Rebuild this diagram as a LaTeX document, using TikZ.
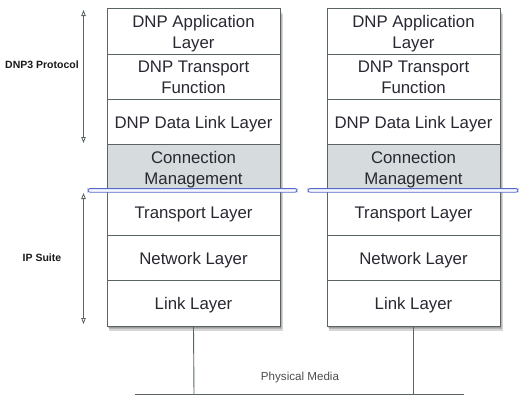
\documentclass[tikz,border=0pt]{standalone}
\usepackage{fontspec}
\setmainfont{Liberation Sans}
\usetikzlibrary{arrows.meta}
\definecolor{edgegray}{RGB}{90,100,100}
\definecolor{txtgray}{RGB}{40,40,50}
\definecolor{shadegray}{RGB}{214,219,221}
\definecolor{capblue}{RGB}{85,105,205}
\definecolor{capfill}{RGB}{246,247,252}
\begin{document}
\begin{tikzpicture}[x=1pt,y=-1pt,
  layer/.style={draw=edgegray, line width=1pt, fill=white, minimum width=173pt,
    minimum height=45.3pt, inner sep=0pt, align=center, text=txtgray, text depth=0pt,
    font=\fontsize{16.8}{21}\selectfont},
  shaded/.style={layer, fill=shadegray},
  shadowlayer/.style={fill=black!80, opacity=0.2},
  side/.style={font=\bfseries\fontsize{10.5}{12}\selectfont, text=black!90},
  span/.style={draw=edgegray, line width=0.8pt, {Triangle[open,length=6pt,width=4.5pt]}-{Triangle[open,length=6pt,width=4.5pt]}},
  wire/.style={draw=edgegray, line width=0.9pt},
  capsule/.style={draw=capblue, fill=capfill, line width=0.9pt, rounded corners=2pt}]
\useasboundingbox (0,0) rectangle (520,402);
% blurred shadows under the stacks
\foreach \d in {1.5,3,4.5}{
  \path[shadowlayer] (107+\d*0.5,9+\d) rectangle (280+\d*0.7,326+\d);
  \path[shadowlayer] (327+\d*0.5,9+\d) rectangle (500+\d*0.7,326+\d);
}
% left stack
\node[layer]  (L1) at (193.5,31.6)  {DNP Application\\Layer};
\node[layer]  (L2) at (193.5,76.9)  {DNP Transport\\Function};
\node[layer]  (L3) at (193.5,122.2) {DNP Data Link Layer};
\node[shaded] (L4) at (193.5,167.5) {Connection\\Management};
\node[layer]  (L5) at (193.5,212.8) {Transport Layer};
\node[layer]  (L6) at (193.5,258.1) {Network Layer};
\node[layer]  (L7) at (193.5,303.4) {Link Layer};
% right stack
\node[layer]  (R1) at (413.5,31.6)  {DNP Application\\Layer};
\node[layer]  (R2) at (413.5,76.9)  {DNP Transport\\Function};
\node[layer]  (R3) at (413.5,122.2) {DNP Data Link Layer};
\node[shaded] (R4) at (413.5,167.5) {Connection\\Management};
\node[layer]  (R5) at (413.5,212.8) {Transport Layer};
\node[layer]  (R6) at (413.5,258.1) {Network Layer};
\node[layer]  (R7) at (413.5,303.4) {Link Layer};
% blue separators
\path[capsule] (88,188.6) rectangle (297,192.2);
\path[capsule] (308,188.6) rectangle (518,192.2);
% side spans
\coordinate (dt) at (83.5,10);
\coordinate (db) at (83.5,143);
\coordinate (it) at (83.5,193);
\coordinate (ib) at (83.5,324);
\draw[span] (dt) -- (db);
\draw[span] (it) -- (ib);
\node[side] (dnp) at (42,65) {DNP3 Protocol};
\node[side] (ip) at (42,258) {IP Suite};
% physical media
\coordinate (busL) at (135,394);
\coordinate (busR) at (464,394);
\coordinate (jl) at (194,394);
\coordinate (jr) at (413.5,394);
\draw[wire] (L7.south) -- (jl);
\draw[wire] (R7.south) -- (jr);
\draw[wire] (busL) -- (busR);
\node[text=black!70, font=\fontsize{11.6}{13}\selectfont] (pm) at (300,377) {Physical Media};
\end{tikzpicture}
\end{document}
